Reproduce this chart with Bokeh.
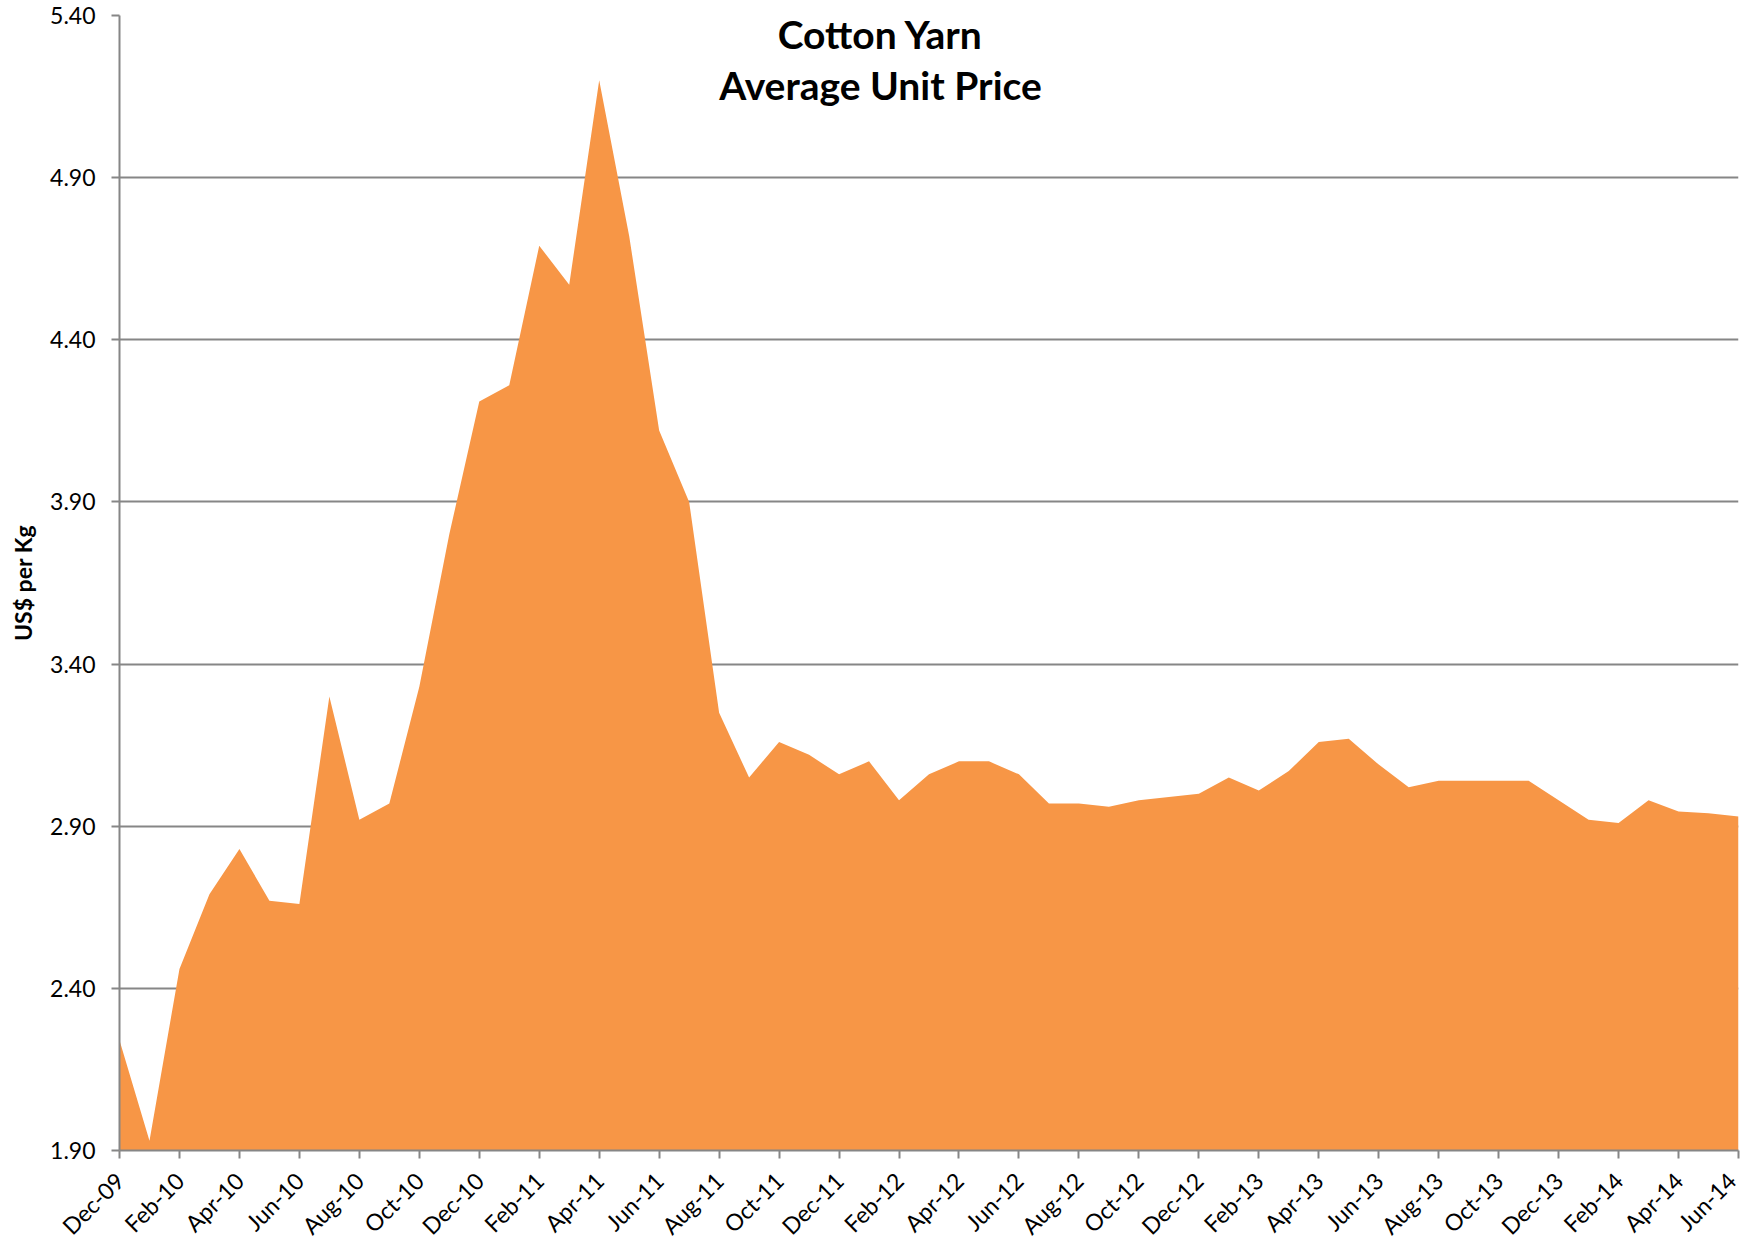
from bokeh.plotting import figure
from bokeh.models import FixedTicker, Range1d, Label, PrintfTickFormatter
from bokeh.embed import file_html
from bokeh.resources import INLINE

months = [
    "Dec-09",
    "Jan-10", "Feb-10", "Mar-10", "Apr-10", "May-10", "Jun-10",
    "Jul-10", "Aug-10", "Sep-10", "Oct-10", "Nov-10", "Dec-10",
    "Jan-11", "Feb-11", "Mar-11", "Apr-11", "May-11", "Jun-11",
    "Jul-11", "Aug-11", "Sep-11", "Oct-11", "Nov-11", "Dec-11",
    "Jan-12", "Feb-12", "Mar-12", "Apr-12", "May-12", "Jun-12",
    "Jul-12", "Aug-12", "Sep-12", "Oct-12", "Nov-12", "Dec-12",
    "Jan-13", "Feb-13", "Mar-13", "Apr-13", "May-13", "Jun-13",
    "Jul-13", "Aug-13", "Sep-13", "Oct-13", "Nov-13", "Dec-13",
    "Jan-14", "Feb-14", "Mar-14", "Apr-14", "May-14", "Jun-14",
]
prices = [
    2.24,
    1.93, 2.46, 2.69, 2.83, 2.67, 2.66,
    3.30, 2.92, 2.97, 3.33, 3.80, 4.21,
    4.26, 4.69, 4.57, 5.20, 4.72, 4.12,
    3.90, 3.25, 3.05, 3.16, 3.12, 3.06,
    3.10, 2.98, 3.06, 3.10, 3.10, 3.06,
    2.97, 2.97, 2.96, 2.98, 2.99, 3.00,
    3.05, 3.01, 3.07, 3.16, 3.17, 3.09,
    3.02, 3.04, 3.04, 3.04, 3.04, 2.98,
    2.92, 2.91, 2.98, 2.945, 2.94, 2.93,
]
y_ticks = [1.90, 2.40, 2.90, 3.40, 3.90, 4.40, 4.90, 5.40]
title_lines = ["Cotton Yarn", "Average Unit Price"]
y_label = "US$ per Kg"

FONT = "Lato"
GRID = "#868686"
FILL = "#F79646"

idx = list(range(len(months)))

p = figure(
    frame_width=1619, frame_height=1135,
    min_border_left=119, min_border_right=3, min_border_top=15, min_border_bottom=89,
    x_range=Range1d(0, len(months) - 1), y_range=Range1d(y_ticks[0], y_ticks[-1]),
    output_backend="svg", toolbar_location=None,
)
p.outline_line_color = None
p.background_fill_color = "white"
p.border_fill_color = "white"

p.varea(x=idx, y1=[y_ticks[0]] * len(idx), y2=prices, fill_color=FILL, fill_alpha=1.0)

# x axis
xa = p.xaxis[0]
xa.ticker = FixedTicker(ticks=idx[::2])
xa.major_label_overrides = {i: months[i] for i in idx[::2]}
xa.major_label_orientation = 0.785398
xa.major_label_text_font = FONT
xa.major_label_text_font_size = "23px"
xa.major_label_text_color = "black"
xa.major_tick_out = 8
xa.major_tick_in = 0
xa.minor_tick_out = 0
xa.minor_tick_in = 0
xa.axis_line_color = GRID
xa.axis_line_width = 2
xa.major_tick_line_color = GRID
xa.major_tick_line_width = 2
xa.major_label_standoff = 18

# y axis
ya = p.yaxis[0]
ya.ticker = FixedTicker(ticks=y_ticks)
ya.formatter = PrintfTickFormatter(format="%.2f")
ya.major_label_text_font = FONT
ya.major_label_text_font_size = "23px"
ya.major_label_text_color = "black"
ya.major_tick_out = 8
ya.major_tick_in = 0
ya.minor_tick_out = 0
ya.minor_tick_in = 0
ya.axis_line_color = GRID
ya.axis_line_width = 2
ya.major_tick_line_color = GRID
ya.major_tick_line_width = 2
ya.major_label_standoff = 16
ya.axis_label = y_label
ya.axis_label_text_font = FONT
ya.axis_label_text_font_size = "23px"
ya.axis_label_text_font_style = "bold"
ya.axis_label_text_color = "black"
ya.axis_label_standoff = 10

p.xgrid.grid_line_color = None
p.ygrid.grid_line_color = GRID
p.ygrid.grid_line_width = 2
p.ygrid.ticker = FixedTicker(ticks=y_ticks)

for line, ypos in zip(title_lines, [1117, 1066]):
    p.add_layout(Label(
        x=761, y=ypos, x_units="screen", y_units="screen", text=line,
        text_align="center", text_baseline="alphabetic",
        text_font=FONT, text_font_size="39px", text_font_style="bold",
        text_color="black",
    ))

open("out.html", "w").write(file_html(p, INLINE))
